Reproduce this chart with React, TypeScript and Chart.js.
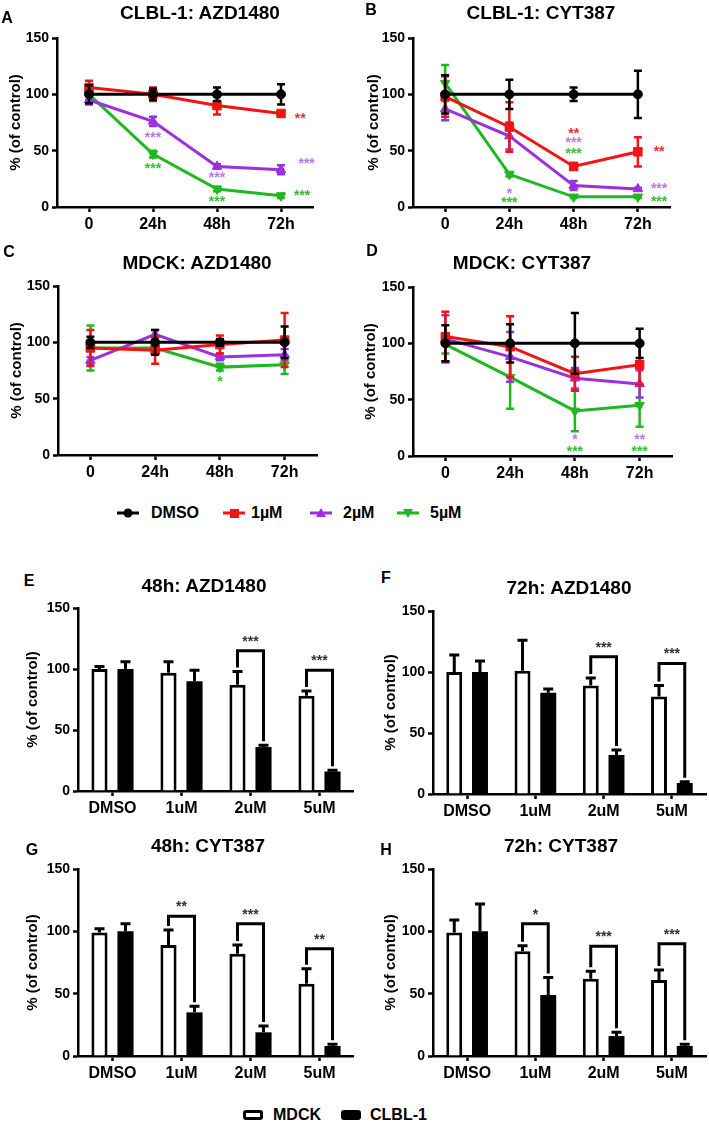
import React, { useEffect, useRef } from 'react';
import { Chart, registerables } from 'chart.js';

Chart.register(...registerables);

const FONT = '"Liberation Sans", Arial, Helvetica, sans-serif';

// ---------- shared labels / styles ----------
const TIME_LABELS = ['0', '24h', '48h', '72h'];
const DOSE_LABELS = ['DMSO', '1uM', '2uM', '5uM'];
const SERIES_NAMES = ['DMSO', '1\u00B5M', '2\u00B5M', '5\u00B5M'];
const SERIES_COLORS = ['#000000', '#f01414', '#9b30e0', '#1fb81f'];
const STAR_COLORS = ['#000000', '#f03030', '#bb77ee', '#33c033'];
const SERIES_MARKERS = ['circle', 'rect', 'triangle', 'triangle'];
const SERIES_ROTATION = [0, 0, 0, 180];
const SERIES_RADIUS = [4.5, 6, 5.5, 5.5];
const BAR_NAMES = ['MDCK', 'CLBL-1'];
const Y_AXIS_TITLE = '% (of control)';

// ---------- Panel A: CLBL-1 AZD1480 ----------
const A_DMSO = [100, 100, 100, 100];
const A_DMSO_ERR = [8, 5, 6, 9];
const A_1UM = [106, 100, 90, 83];
const A_1UM_ERR = [6, 6, 8, 2];
const A_2UM = [95, 76, 36, 33];
const A_2UM_ERR = [4, 4, 2, 4];
const A_5UM = [100, 47, 16, 10];
const A_5UM_ERR = [5, 3, 2, 2];
// [x (category index), y value, text, series]
const A_STARS: [number, number, string, number][] = [
  [3.3, 81, '**', 1], [1, 64, '***', 2], [2, 28, '***', 2], [3.4, 41, '***', 2],
  [1, 36, '***', 3], [2, 7, '***', 3], [3.33, 12, '***', 3],
];

// ---------- Panel B: CLBL-1 CYT387 ----------
const B_DMSO = [100, 100, 100, 100];
const B_DMSO_ERR = [17, 13, 6, 21];
const B_1UM = [98, 71, 36, 49];
const B_1UM_ERR = [18, 22, 3, 13];
const B_2UM = [87, 63, 19, 16];
const B_2UM_ERR = [10, 12, 4, 1];
const B_5UM = [110, 29, 9, 9];
const B_5UM_ERR = [16, 2, 1, 1];
const B_STARS: [number, number, string, number][] = [
  [2, 67.5, '**', 1], [2, 59, '***', 2], [2, 50, '***', 3],
  [3.33, 51.5, '**', 1], [3.33, 18.5, '***', 2], [3.33, 7.4, '***', 3],
  [1, 14.4, '*', 2], [1, 6, '***', 3],
];

// ---------- Panel C: MDCK AZD1480 ----------
const C_DMSO = [100, 100, 100, 100];
const C_DMSO_ERR = [5, 11, 3, 14];
const C_1UM = [95, 93, 98, 102];
const C_1UM_ERR = [16, 12, 8, 24];
const C_2UM = [84, 107, 87, 89];
const C_2UM_ERR = [3, 4, 3, 5];
const C_5UM = [95, 95, 78, 80];
const C_5UM_ERR = [20, 5, 3, 8];
const C_STARS: [number, number, string, number][] = [[2, 67, '*', 3]];

// ---------- Panel D: MDCK CYT387 ----------
const D_DMSO = [100, 100, 100, 100];
const D_DMSO_ERR = [16, 17, 27, 13];
const D_1UM = [106, 97, 73, 81];
const D_1UM_ERR = [22, 27, 15, 18];
const D_2UM = [104, 88, 69, 64];
const D_2UM_ERR = [21, 22, 9, 12];
const D_5UM = [99, 70, 40, 45];
const D_5UM_ERR = [8, 28, 18, 19];
const D_STARS: [number, number, string, number][] = [
  [2, 17, '*', 2], [2, 6, '***', 3], [3, 17, '**', 2], [3, 6, '***', 3],
];

// ---------- Panel E: 48h AZD1480 ----------
const E_MDCK = [100, 97, 87, 78];
const E_MDCK_ERR = [2, 9, 11, 4];
const E_CLBL = [100, 90, 36, 16];
const E_CLBL_ERR = [6, 9, 1.5, 1];
const E_BRACKET = [null, null, 115, 99];
const E_SIG = ['', '', '***', '***'];

// ---------- Panel F: 72h AZD1480 ----------
const F_MDCK = [100, 101, 89, 80];
const F_MDCK_ERR = [14, 25, 6, 9];
const F_CLBL = [100, 83, 32, 9];
const F_CLBL_ERR = [9, 3, 4, 1];
const F_BRACKET = [null, null, 112.5, 107];
const F_SIG = ['', '', '***', '***'];

// ---------- Panel G: 48h CYT387 ----------
const G_MDCK = [99, 89, 82, 58];
const G_MDCK_ERR = [3, 12, 7, 12];
const G_CLBL = [100, 35, 19, 8];
const G_CLBL_ERR = [6, 5, 5, 1.5];
const G_BRACKET = [null, 112, 106, 86];
const G_SIG = ['', '**', '***', '**'];

// ---------- Panel H: 72h CYT387 ----------
const H_MDCK = [99, 84, 62, 61];
const H_MDCK_ERR = [10, 4.5, 6, 8];
const H_CLBL = [100, 49, 16, 8];
const H_CLBL_ERR = [22, 14, 3, 1.5];
const H_BRACKET = [null, 106, 88, 90];
const H_SIG = ['', '*', '***', '***'];

type Geo = { W: number; H: number; l: number; r: number; t: number; b: number; titleX: number };

function axisCommon(fontSize: number) {
  return {
    grid: {
      display: true,
      drawOnChartArea: false,
      drawTicks: true,
      tickLength: 5,
      tickWidth: 2.5,
      tickColor: '#000',
      offset: false,
    },
    border: { display: true, color: '#000', width: 2.5 },
    ticks: {
      color: '#000',
      font: { family: FONT, size: fontSize, weight: 'bold' },
    },
  };
}

function yScale(geo: Geo) {
  const c = axisCommon(14);
  return {
    min: 0,
    max: 150,
    ...c,
    ticks: { ...c.ticks, stepSize: 50, padding: 3 },
    title: {
      display: true,
      text: Y_AXIS_TITLE,
      color: '#000',
      font: { family: FONT, size: 15, weight: 'bold' },
      padding: { top: geo.titleX - 9, bottom: 0 },
    },
    afterFit: (s: any) => {
      s.width = geo.l;
    },
  };
}

function xScale(geo: Geo) {
  const c = axisCommon(16);
  return {
    offset: true,
    ...c,
    ticks: { ...c.ticks, padding: 3, maxRotation: 0, autoSkip: false },
    afterFit: (s: any) => {
      s.height = geo.H - geo.b;
    },
  };
}

function drawStar(ctx: CanvasRenderingContext2D, x: number, y: number, text: string, color: string) {
  ctx.save();
  ctx.fillStyle = color;
  ctx.font = `bold 14px ${FONT}`;
  ctx.textAlign = 'center';
  ctx.textBaseline = 'middle';
  ctx.fillText(text, x, y + 3);
  ctx.restore();
}

function lineConfig(means: number[][], errs: number[][], stars: [number, number, string, number][], geo: Geo) {
  const plugin = {
    id: 'lineErrStars',
    beforeDatasetDraw(chart: any, args: any) {
      const i = args.index;
      const meta = args.meta;
      const ctx = chart.ctx;
      const ys = chart.scales.y;
      ctx.save();
      ctx.strokeStyle = SERIES_COLORS[i];
      ctx.lineWidth = 2.5;
      meta.data.forEach((pt: any, j: number) => {
        const v = means[i][j];
        const e = errs[i][j];
        const y1 = ys.getPixelForValue(v + e);
        const y2 = ys.getPixelForValue(v - e);
        ctx.beginPath();
        ctx.moveTo(pt.x, y1);
        ctx.lineTo(pt.x, y2);
        ctx.moveTo(pt.x - 4, y1);
        ctx.lineTo(pt.x + 4, y1);
        ctx.moveTo(pt.x - 4, y2);
        ctx.lineTo(pt.x + 4, y2);
        ctx.stroke();
      });
      ctx.restore();
    },
    afterDatasetsDraw(chart: any) {
      const xs = chart.scales.x;
      const ys = chart.scales.y;
      stars.forEach(([xi, v, text, s]) => {
        drawStar(chart.ctx, xs.getPixelForValue(xi), ys.getPixelForValue(v), text, STAR_COLORS[s]);
      });
    },
  };
  return {
    type: 'line',
    data: {
      labels: TIME_LABELS,
      datasets: means.map((m, i) => ({
        label: SERIES_NAMES[i],
        data: m,
        borderColor: SERIES_COLORS[i],
        backgroundColor: SERIES_COLORS[i],
        borderWidth: 3,
        pointStyle: SERIES_MARKERS[i],
        pointRotation: SERIES_ROTATION[i],
        pointRadius: SERIES_RADIUS[i],
        pointBorderWidth: 1,
        tension: 0,
        clip: false,
      })),
    },
    options: {
      responsive: false,
      animation: false,
      devicePixelRatio: 1,
      events: [],
      layout: { padding: { left: 0, top: geo.t, right: geo.W - geo.r, bottom: 0 } },
      plugins: { legend: { display: false }, tooltip: { enabled: false }, title: { display: false } },
      scales: { x: xScale(geo), y: yScale(geo) },
    },
    plugins: [plugin],
  };
}

function barConfig(
  mdck: number[], mdckErr: number[], clbl: number[], clblErr: number[],
  bracket: (number | null)[], sig: string[], geo: Geo,
) {
  const vals = [mdck, clbl];
  const errs = [mdckErr, clblErr];
  const plugin = {
    id: 'barErrBrackets',
    afterDatasetsDraw(chart: any) {
      const ctx = chart.ctx;
      const ys = chart.scales.y;
      ctx.save();
      ctx.strokeStyle = '#000';
      ctx.lineWidth = 3;
      ctx.lineCap = 'butt';
      for (let i = 0; i < 2; i++) {
        const meta = chart.getDatasetMeta(i);
        meta.data.forEach((el: any, j: number) => {
          const yTop = ys.getPixelForValue(vals[i][j]);
          const yErr = ys.getPixelForValue(vals[i][j] + errs[i][j]);
          ctx.beginPath();
          ctx.moveTo(el.x, yTop);
          ctx.lineTo(el.x, yErr);
          ctx.moveTo(el.x - 5, yErr);
          ctx.lineTo(el.x + 5, yErr);
          ctx.stroke();
        });
      }
      const m0 = chart.getDatasetMeta(0);
      const m1 = chart.getDatasetMeta(1);
      ctx.lineJoin = 'miter';
      bracket.forEach((bt, j) => {
        if (bt == null) return;
        const xL = m0.data[j].x;
        const xR = m1.data[j].x;
        const yT = ys.getPixelForValue(bt);
        const yL = ys.getPixelForValue(mdck[j] + mdckErr[j]) - 4;
        const yR = ys.getPixelForValue(clbl[j] + clblErr[j]) - 4;
        ctx.beginPath();
        ctx.moveTo(xL, yL);
        ctx.lineTo(xL, yT);
        ctx.lineTo(xR, yT);
        ctx.lineTo(xR, yR);
        ctx.stroke();
        drawStar(ctx, (xL + xR) / 2, yT - 12, sig[j], '#333');
      });
      ctx.restore();
    },
  };
  return {
    type: 'bar',
    data: {
      labels: DOSE_LABELS,
      datasets: [
        {
          label: BAR_NAMES[0],
          data: mdck,
          backgroundColor: '#ffffff',
          borderColor: '#000000',
          borderWidth: 3,
          categoryPercentage: 0.754,
          barPercentage: 0.62,
        },
        {
          label: BAR_NAMES[1],
          data: clbl,
          backgroundColor: '#000000',
          borderColor: '#000000',
          borderWidth: 0,
          categoryPercentage: 0.754,
          barPercentage: 0.62,
        },
      ],
    },
    options: {
      responsive: false,
      animation: false,
      devicePixelRatio: 1,
      events: [],
      layout: { padding: { left: 0, top: geo.t, right: geo.W - geo.r, bottom: 0 } },
      plugins: { legend: { display: false }, tooltip: { enabled: false }, title: { display: false } },
      scales: { x: xScale(geo), y: yScale(geo) },
    },
    plugins: [plugin],
  };
}

function ChartBox({ left, top, width, height, make }: any) {
  const ref = useRef<HTMLCanvasElement>(null);
  useEffect(() => {
    const chart = new Chart(ref.current as HTMLCanvasElement, make());
    return () => chart.destroy();
  }, []);
  return (
    <canvas
      ref={ref}
      width={width}
      height={height}
      style={{ position: 'absolute', left, top, width, height }}
    />
  );
}

function Label({ x, y, text, size }: any) {
  return (
    <div
      style={{
        position: 'absolute',
        left: x,
        top: y,
        transform: 'translate(-50%, -50%)',
        fontFamily: FONT,
        fontWeight: 'bold',
        fontSize: size,
        whiteSpace: 'nowrap',
        color: '#000',
        lineHeight: 1,
      }}
    >
      {text}
    </div>
  );
}

function LegendMarker({ i }: { i: number }) {
  const c = SERIES_COLORS[i];
  let marker: any = null;
  if (i === 0) marker = <circle cx={12} cy={7} r={4.5} fill={c} />;
  else if (i === 1) marker = <rect x={8} y={3} width={9} height={9} fill={c} />;
  else if (i === 2) marker = <polygon points="12,2 17,11 7,11" fill={c} />;
  else marker = <polygon points="7,3 17,3 12,12" fill={c} />;
  return (
    <svg width={24} height={14} style={{ display: 'block' }}>
      <line x1={1} y1={7} x2={23} y2={7} stroke={c} strokeWidth={3} />
      {marker}
    </svg>
  );
}

const LEGEND_X = [116, 222, 309, 396];
const LEGEND_TEXT_X = [151, 251, 343, 430];

export default function App() {
  const geoA: Geo = { W: 354, H: 240, l: 57, r: 313, t: 38, b: 207, titleX: 16 };
  const geoB: Geo = { W: 355, H: 240, l: 59, r: 316, t: 38, b: 207, titleX: 20 };
  const geoC: Geo = { W: 354, H: 240, l: 58, r: 317, t: 46, b: 215, titleX: 17 };
  const geoD: Geo = { W: 355, H: 240, l: 59, r: 318, t: 47, b: 216, titleX: 17 };
  const geoE: Geo = { W: 354, H: 235, l: 78, r: 354, t: 13, b: 196, titleX: 33 };
  const geoF: Geo = { W: 355, H: 235, l: 79, r: 352, t: 16, b: 199, titleX: 37 };
  const geoG: Geo = { W: 354, H: 235, l: 78, r: 354, t: 14, b: 201, titleX: 33 };
  const geoH: Geo = { W: 355, H: 235, l: 79, r: 352, t: 14, b: 201, titleX: 37 };

  return (
    <div style={{ position: 'absolute', left: 0, top: 0, width: 709, height: 1126, background: '#fff', overflow: 'hidden' }}>
      <ChartBox left={0} top={0} width={354} height={240}
        make={() => lineConfig([A_DMSO, A_1UM, A_2UM, A_5UM], [A_DMSO_ERR, A_1UM_ERR, A_2UM_ERR, A_5UM_ERR], A_STARS, geoA)} />
      <ChartBox left={354} top={0} width={355} height={240}
        make={() => lineConfig([B_DMSO, B_1UM, B_2UM, B_5UM], [B_DMSO_ERR, B_1UM_ERR, B_2UM_ERR, B_5UM_ERR], B_STARS, geoB)} />
      <ChartBox left={0} top={240} width={354} height={240}
        make={() => lineConfig([C_DMSO, C_1UM, C_2UM, C_5UM], [C_DMSO_ERR, C_1UM_ERR, C_2UM_ERR, C_5UM_ERR], C_STARS, geoC)} />
      <ChartBox left={354} top={240} width={355} height={240}
        make={() => lineConfig([D_DMSO, D_1UM, D_2UM, D_5UM], [D_DMSO_ERR, D_1UM_ERR, D_2UM_ERR, D_5UM_ERR], D_STARS, geoD)} />

      <ChartBox left={0} top={595} width={354} height={235}
        make={() => barConfig(E_MDCK, E_MDCK_ERR, E_CLBL, E_CLBL_ERR, E_BRACKET, E_SIG, geoE)} />
      <ChartBox left={354} top={595} width={355} height={235}
        make={() => barConfig(F_MDCK, F_MDCK_ERR, F_CLBL, F_CLBL_ERR, F_BRACKET, F_SIG, geoF)} />
      <ChartBox left={0} top={855} width={354} height={235}
        make={() => barConfig(G_MDCK, G_MDCK_ERR, G_CLBL, G_CLBL_ERR, G_BRACKET, G_SIG, geoG)} />
      <ChartBox left={354} top={855} width={355} height={235}
        make={() => barConfig(H_MDCK, H_MDCK_ERR, H_CLBL, H_CLBL_ERR, H_BRACKET, H_SIG, geoH)} />

      {/* panel letters */}
      <Label x={7} y={18} text="A" size={16} />
      <Label x={371} y={10} text="B" size={16} />
      <Label x={9} y={252} text="C" size={16} />
      <Label x={372} y={251} text="D" size={16} />
      <Label x={29} y={581} text="E" size={16} />
      <Label x={386} y={578} text="F" size={16} />
      <Label x={32} y={850} text="G" size={16} />
      <Label x={386} y={850} text="H" size={16} />

      {/* titles */}
      <Label x={200} y={12} text="CLBL-1: AZD1480" size={19} />
      <Label x={541} y={12} text="CLBL-1: CYT387" size={19} />
      <Label x={197} y={262} text="MDCK: AZD1480" size={19} />
      <Label x={522} y={262} text="MDCK: CYT387" size={19} />
      <Label x={204} y={585} text="48h: AZD1480" size={19} />
      <Label x={569} y={587} text="72h: AZD1480" size={19} />
      <Label x={208} y={845} text="48h: CYT387" size={19} />
      <Label x={561} y={845} text="72h: CYT387" size={19} />

      {/* line legend */}
      {SERIES_NAMES.map((n, i) => (
        <React.Fragment key={n}>
          <div style={{ position: 'absolute', left: LEGEND_X[i], top: 513 - 7 }}>
            <LegendMarker i={i} />
          </div>
          <div style={{ position: 'absolute', left: LEGEND_TEXT_X[i], top: 513, transform: 'translateY(-50%)', fontFamily: FONT, fontWeight: 'bold', fontSize: 16, lineHeight: 1 }}>
            {n}
          </div>
        </React.Fragment>
      ))}

      {/* bar legend */}
      <div style={{ position: 'absolute', left: 243, top: 1110, width: 20, height: 10, boxSizing: 'border-box', border: '3px solid #000', borderRadius: 3, background: '#fff' }} />
      <div style={{ position: 'absolute', left: 273, top: 1115, transform: 'translateY(-50%)', fontFamily: FONT, fontWeight: 'bold', fontSize: 16, lineHeight: 1 }}>{BAR_NAMES[0]}</div>
      <div style={{ position: 'absolute', left: 341, top: 1110, width: 20, height: 10, borderRadius: 3, background: '#000' }} />
      <div style={{ position: 'absolute', left: 370, top: 1115, transform: 'translateY(-50%)', fontFamily: FONT, fontWeight: 'bold', fontSize: 16, lineHeight: 1 }}>{BAR_NAMES[1]}</div>
    </div>
  );
}
